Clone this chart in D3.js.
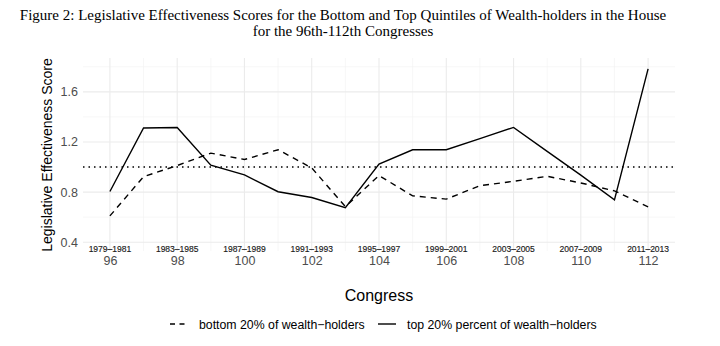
<!DOCTYPE html>
<html><head><meta charset="utf-8">
<script src="https://cdn.jsdelivr.net/npm/d3@7/dist/d3.min.js"></script>
<style>body{margin:0;background:#fff}svg{display:block}</style>
</head><body>
<svg id="chart" width="720" height="346"></svg>
<script>
const congresses = [96,97,98,99,100,101,102,103,104,105,106,107,108,109,110,111,112];
const bottom20 = [0.61,0.923,1.012,1.111,1.06,1.138,0.993,0.684,0.932,0.77,0.744,0.851,0.886,0.926,0.873,0.81,0.682];
const top20 = [0.805,1.312,1.316,1.015,0.937,0.803,0.757,0.676,1.023,1.138,1.138,1.227,1.316,1.125,0.935,0.738,1.783];
const xTicks = [96,98,100,102,104,106,108,110,112];
const yearLabels = ["1979–1981","1983–1985","1987–1989","1991–1993","1995–1997","1999–2001","2003–2005","2007–2009","2011–2013"];
const yTicks = [0.4,0.8,1.2,1.6];
const yMinor = [0.6,1.0,1.4,1.8];
const xMinor = [97,99,101,103,105,107,109,111];
const refLine = 1.0;
const titleLines = ["Figure 2: Legislative Effectiveness Scores for the Bottom and Top Quintiles of Wealth-holders in the House","for the 96th-112th Congresses"];
const seriesNames = ["bottom 20% of wealth−holders","top 20% percent of wealth−holders"];

const svg = d3.select("#chart");
const L = 83, R = 675, T = 58, B = 251;
const x = d3.scaleLinear().domain([95.2,112.8]).range([L,R]);
const y = d3.scaleLinear().domain([0.33,1.87]).range([B,T]);
const sans = "'Liberation Sans', Arial, sans-serif";

// gridlines
const g = svg.append("g");
g.selectAll(".ymin").data(yMinor).enter().append("line")
 .attr("x1",L).attr("x2",R).attr("y1",d=>y(d)).attr("y2",d=>y(d))
 .attr("stroke","#f2f2f2").attr("stroke-width",0.6);
g.selectAll(".xmin").data(xMinor).enter().append("line")
 .attr("y1",T).attr("y2",B).attr("x1",d=>x(d)).attr("x2",d=>x(d))
 .attr("stroke","#f2f2f2").attr("stroke-width",0.6);
g.selectAll(".ymaj").data(yTicks).enter().append("line")
 .attr("x1",L).attr("x2",R).attr("y1",d=>y(d)).attr("y2",d=>y(d))
 .attr("stroke","#ebebeb").attr("stroke-width",1.1);
g.selectAll(".xmaj").data(xTicks).enter().append("line")
 .attr("y1",T).attr("y2",B).attr("x1",d=>x(d)).attr("x2",d=>x(d))
 .attr("stroke","#ebebeb").attr("stroke-width",1.1);

// reference line
svg.append("line").attr("x1",L).attr("x2",R).attr("y1",y(refLine)).attr("y2",y(refLine))
 .attr("stroke","#000").attr("stroke-width",1.5).attr("stroke-dasharray","1.5,4");

const line = d3.line().x((d,i)=>x(congresses[i])).y(d=>y(d));
svg.append("path").datum(bottom20).attr("d",line).attr("fill","none")
 .attr("stroke","#000").attr("stroke-width",1.4).attr("stroke-dasharray","6,5");
svg.append("path").datum(top20).attr("d",line).attr("fill","none")
 .attr("stroke","#000").attr("stroke-width",1.4);

// year labels
svg.selectAll(".yr").data(xTicks).enter().append("text")
 .attr("x",d=>x(d)).attr("y",252).attr("text-anchor","middle")
 .attr("font-family",sans).attr("font-size",8.5).attr("fill","#1a1a1a")
 .attr("stroke","#1a1a1a").attr("stroke-width",0.15)
 .text((d,i)=>yearLabels[i]);

// x axis tick labels
const xAxis = d3.axisBottom(x).tickValues(xTicks).tickSize(0).tickPadding(0).tickFormat(d3.format("d"));
const xa = svg.append("g").attr("transform",`translate(0,${256})`).call(xAxis);
xa.select(".domain").remove();
xa.selectAll("text").attr("font-family",sans).attr("font-size",12.5).attr("fill","#4d4d4d").attr("dy","0.71em");

const yAxis = d3.axisLeft(y).tickValues(yTicks).tickSize(0).tickPadding(0).tickFormat(d3.format(".1f"));
const ya = svg.append("g").attr("transform",`translate(${78},0)`).call(yAxis);
ya.select(".domain").remove();
ya.selectAll("text").attr("font-family",sans).attr("font-size",12.5).attr("fill","#4d4d4d");

// axis titles
svg.append("text").attr("transform",`translate(52,155) rotate(-90)`).attr("text-anchor","middle")
 .attr("font-family",sans).attr("font-size",14).attr("fill","#000").text("Legislative Effectiveness Score");
svg.append("text").attr("x",379).attr("y",301).attr("text-anchor","middle")
 .attr("font-family",sans).attr("font-size",16).attr("fill","#000").text("Congress");

// title
svg.selectAll(".title").data(titleLines).enter().append("text")
 .attr("x",343).attr("y",(d,i)=>20+i*15.5).attr("text-anchor","middle")
 .attr("font-family","'Liberation Serif','Times New Roman',serif").attr("font-size",15).attr("fill","#000")
 .text(d=>d);

// legend
const lg = svg.append("g");
lg.append("line").attr("x1",170).attr("x2",188).attr("y1",324).attr("y2",324)
 .attr("stroke","#000").attr("stroke-width",1.4).attr("stroke-dasharray","5,4.5");
lg.append("text").attr("x",199).attr("y",328.5).attr("font-family",sans).attr("font-size",12.3).text(seriesNames[0]);
lg.append("line").attr("x1",378).attr("x2",396).attr("y1",324).attr("y2",324)
 .attr("stroke","#000").attr("stroke-width",1.4);
lg.append("text").attr("x",407).attr("y",328.5).attr("font-family",sans).attr("font-size",12.3).text(seriesNames[1]);
</script>
</body></html>
